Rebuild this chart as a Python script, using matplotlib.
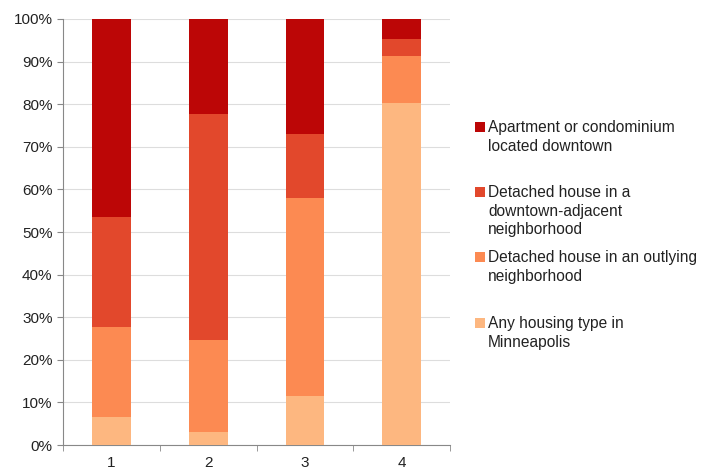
import matplotlib.pyplot as plt
import numpy as np
from matplotlib.patches import Rectangle

plt.rcParams['font.family'] = ['Liberation Sans', 'DejaVu Sans']

# data (percent of each bar)
categories = ['1', '2', '3', '4']
any_type = [6.5, 3.1, 11.6, 80.2]
outlying = [21.3, 21.5, 46.5, 11.1]
adjacent = [25.8, 53.0, 14.9, 3.9]
downtown = [46.4, 22.4, 27.0, 4.8]

labels = ['Apartment or condominium\nlocated downtown',
          'Detached house in a\ndowntown-adjacent\nneighborhood',
          'Detached house in an outlying\nneighborhood',
          'Any housing type in\nMinneapolis']
colors = ['#BC0606', '#E2482C', '#FC8A52', '#FDB780']

W, H = 704, 475
fig = plt.figure(figsize=(W / 100, H / 100), dpi=100)
ax = fig.add_axes([0.0895, 0.063, 0.55, 0.897])

x = np.arange(1, len(categories) + 1)
series = [any_type, outlying, adjacent, downtown]
series_colors = colors[::-1]
bottom = np.zeros(len(x))
for vals, c in zip(series, series_colors):
    ax.bar(x, vals, width=0.4, bottom=bottom, color=c, zorder=3)
    bottom += np.array(vals)

ax.set_xlim(0.5, 4.5)
ax.set_ylim(0, 100)
ax.set_yticks(np.arange(0, 101, 10))
ax.set_yticklabels(['{}%'.format(v) for v in range(0, 101, 10)], fontsize=11, color='#222222')
ax.set_xticks(x)
ax.set_xticklabels(categories, fontsize=11, color='#222222')
ax.set_xticks(np.arange(0.5, 4.6, 1), minor=True)
ax.tick_params(axis='x', which='major', length=0, pad=8)
ax.tick_params(axis='x', which='minor', length=4, color='#888888')
ax.tick_params(axis='y', length=4, color='#888888')
ax.grid(True, axis='y', color='#DDDDDD', linewidth=0.8, zorder=0)
for s in ['top', 'right']:
    ax.spines[s].set_visible(False)
for s in ['left', 'bottom']:
    ax.spines[s].set_color('#888888')

# legend drawn by hand so the marker sits on the first line
first_line_y = [127, 192, 257, 323]
for lab, c, py in zip(labels, colors, first_line_y):
    fig.patches.append(Rectangle((475 / W, 1 - (py + 5) / H), 10 / W, 10 / H,
                                 transform=fig.transFigure, facecolor=c,
                                 edgecolor='none'))
    fig.text(488 / W, 1 - (py - 7) / H, lab, fontsize=11.2, color='#222222',
             va='top', ha='left', linespacing=1.3)

fig.savefig('out.png', dpi=100)
